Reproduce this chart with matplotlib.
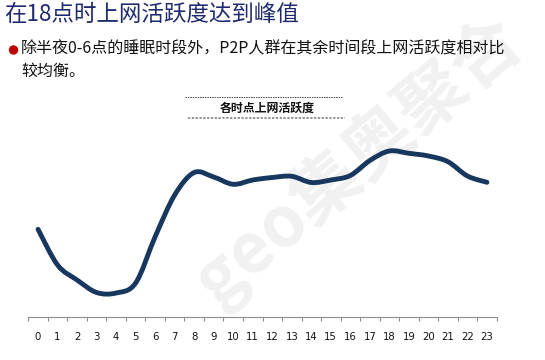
import matplotlib
matplotlib.use("Agg")
import matplotlib.pyplot as plt
from matplotlib.path import Path
from matplotlib.patches import PathPatch, Ellipse
from matplotlib.lines import Line2D
import numpy as np

plt.rcParams["font.family"] = ["Noto Sans CJK SC", "DejaVu Sans"]

# 各时点上网活跃度 (相对值，读图估计)
hours = list(range(24))
activity = [87.7, 52, 37, 24.5, 24, 34, 80.3, 122, 144.5, 140, 132.7, 137,
            139.5, 140.7, 134.5, 137, 141.5, 156.5, 166, 163.7, 161, 155.3, 141, 134.7]
hour_labels = [str(h) for h in hours]

title = "在18点时上网活跃度达到峰值"
bullet_line1 = "除半夜0-6点的睡眠时段外，P2P人群在其余时间段上网活跃度相对比"
bullet_line2 = "较均衡。"
chart_title = "各时点上网活跃度"
watermark = "geo集奥聚合"

W, H = 545, 360
fig = plt.figure(figsize=(W / 100, H / 100), dpi=100)

def fx(px):
    return px / W

def fy(py):
    return 1 - py / H

# watermark (behind everything)
fig.text(fx(358), fy(160), watermark, rotation=40, fontsize=50, fontweight="bold",
         color="#f1f1f1", ha="center", va="center", zorder=0)

# headings
fig.text(fx(4), fy(14), title, fontsize=16.2, color="#1F2A6E", va="center", zorder=3)
fig.add_artist(Ellipse((fx(13.5), fy(50)), 8 / W, 8 / H, transform=fig.transFigure,
                       color="#C00000", zorder=3))
fig.text(fx(21), fy(49), bullet_line1, fontsize=11.5, color="#111111", va="center", zorder=3)
fig.text(fx(21), fy(71), bullet_line2, fontsize=11.5, color="#111111", va="center", zorder=3)

fig.text(fx(267), fy(108), chart_title, fontsize=8.6, fontweight="bold",
         color="#111111", ha="center", va="center", zorder=3)
fig.add_artist(Line2D([fx(185), fx(342)], [fy(97)] * 2, transform=fig.transFigure,
                      color="#444444", lw=0.7, ls=(0, (1.5, 1)), zorder=3))
fig.add_artist(Line2D([fx(188), fx(345)], [fy(118.5)] * 2, transform=fig.transFigure,
                      color="#777777", lw=1.1, ls=(0, (1.5, 1)), zorder=3))

ax = fig.add_axes([fx(28.3), 43 / H, 468.4 / W, 180 / H])
ax.set_zorder(2)
ax.patch.set_alpha(0)
ax.set_xlim(-0.5, 23.5)
ax.set_ylim(0, 180)

# smoothed line (Excel-style bezier through the points)
x = np.array(hours, dtype=float)
y = np.array(activity, dtype=float)
verts = [(x[0], y[0])]
codes = [Path.MOVETO]
for i in range(len(x) - 1):
    x0, y0 = (x[i - 1], y[i - 1]) if i > 0 else (x[i], y[i])
    x3, y3 = (x[i + 2], y[i + 2]) if i + 2 < len(x) else (x[i + 1], y[i + 1])
    c1 = (x[i] + (x[i + 1] - x0) / 6, y[i] + (y[i + 1] - y0) / 6)
    c2 = (x[i + 1] - (x3 - x[i]) / 6, y[i + 1] - (y3 - y[i]) / 6)
    verts += [c1, c2, (x[i + 1], y[i + 1])]
    codes += [Path.CURVE4] * 3
ax.add_patch(PathPatch(Path(verts, codes), fill=False, edgecolor="#17375E",
                       lw=3.5, capstyle="round", joinstyle="round", clip_on=False))

for s in ["top", "right", "left"]:
    ax.spines[s].set_visible(False)
ax.spines["bottom"].set_color("#8c8c8c")
ax.spines["bottom"].set_linewidth(0.8)
ax.set_yticks([])
ax.set_xticks(hours)
ax.set_xticklabels(hour_labels, family="DejaVu Sans", fontsize=7.3, color="#111111")
ax.tick_params(axis="x", which="major", length=0, pad=11)
ax.set_xticks(np.arange(-0.5, 24, 1), minor=True)
ax.tick_params(axis="x", which="minor", length=3, width=0.8, color="#8c8c8c")

plt.savefig("out.png", dpi=100)
